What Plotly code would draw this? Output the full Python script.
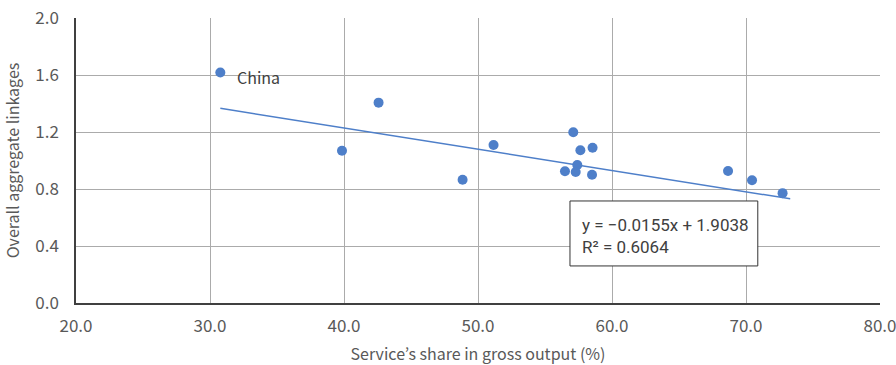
import plotly.graph_objects as go

service_share = [30.77, 42.58, 39.85, 51.16, 48.85, 57.11, 57.64, 58.55, 57.41, 56.49, 57.29, 58.51, 68.66, 70.45, 72.73]
linkages = [1.617, 1.406, 1.069, 1.109, 0.865, 1.198, 1.072, 1.090, 0.968, 0.924, 0.919, 0.900, 0.926, 0.861, 0.771]
point_labels = ["China"] + [""] * 14
# trendline as drawn in the chart (endpoints)
trend_x = [30.77, 73.3]
trend_y = [1.366, 0.731]
eq_text = "y = \u22120.0155x + 1.9038"
r2_text = "R\u00b2 = 0.6064"
x_ticks = [20, 30, 40, 50, 60, 70, 80]
y_ticks = [0.0, 0.4, 0.8, 1.2, 1.6, 2.0]

blue = "#4E7FC9"
font_family = "Noto Sans CJK KR, Roboto, sans-serif"
box_font = "Roboto, Arial, sans-serif"
tick_color = "#595959"

fig = go.Figure()
fig.add_trace(go.Scatter(x=trend_x, y=trend_y, mode="lines",
                         line=dict(color=blue, width=1.5), hoverinfo="skip", showlegend=False))
fig.add_trace(go.Scatter(x=service_share, y=linkages, mode="markers",
                         marker=dict(color=blue, size=10), showlegend=False))

for x, y, t in zip(service_share, linkages, point_labels):
    if t:
        fig.add_annotation(x=x, y=y, text=t, showarrow=False, xanchor="left", yanchor="middle",
                           xshift=15, yshift=-4, font=dict(family=font_family, size=16, color="#404040"))

# regression label box
fig.add_shape(type="rect", xref="paper", yref="paper", x0=0.6144, x1=0.848, y0=0.130, y1=0.358,
              line=dict(color="#333333", width=1), fillcolor="white", layer="above")
for txt, yp in [(eq_text, 0.274), (r2_text, 0.196)]:
    fig.add_annotation(x=0.627, y=yp, xref="paper", yref="paper", xanchor="left", yanchor="middle",
                       text=txt, showarrow=False, align="left",
                       font=dict(family=box_font, size=17, color="#404040"))

fig.update_layout(
    width=896, height=365,
    margin=dict(l=76, r=16, t=18, b=62),
    plot_bgcolor="white", paper_bgcolor="white",
    font=dict(family=font_family, size=17, color=tick_color),
)
fig.update_xaxes(range=[20, 80], tickvals=x_ticks, ticktext=[f"{v:.1f}" for v in x_ticks],
                 showgrid=True, gridcolor="#ABABAB", gridwidth=1, automargin=False,
                 showline=True, linecolor="#404040", linewidth=1.5, zeroline=False,
                 ticks="", ticklabelstandoff=7, ticklabeloverflow="allow",
                 tickfont=dict(size=17),
                 title=dict(text="Service\u2019s share in gross output (%)",
                            font=dict(size=16, color=tick_color)))
fig.update_yaxes(range=[0, 2.0], tickvals=y_ticks, ticktext=[f"{v:.1f}" for v in y_ticks],
                 showgrid=True, gridcolor="#ABABAB", gridwidth=1, automargin=False,
                 showline=True, linecolor="#404040", linewidth=1.5, zeroline=False,
                 ticks="", ticklabelstandoff=12, tickfont=dict(size=17),
                 title=dict(text="Overall aggregate linkages",
                            font=dict(size=16, color=tick_color)))

fig.write_html("out.html", config={"displayModeBar": False},
               post_script="document.body.style.margin='0';document.body.style.overflow='hidden';")
